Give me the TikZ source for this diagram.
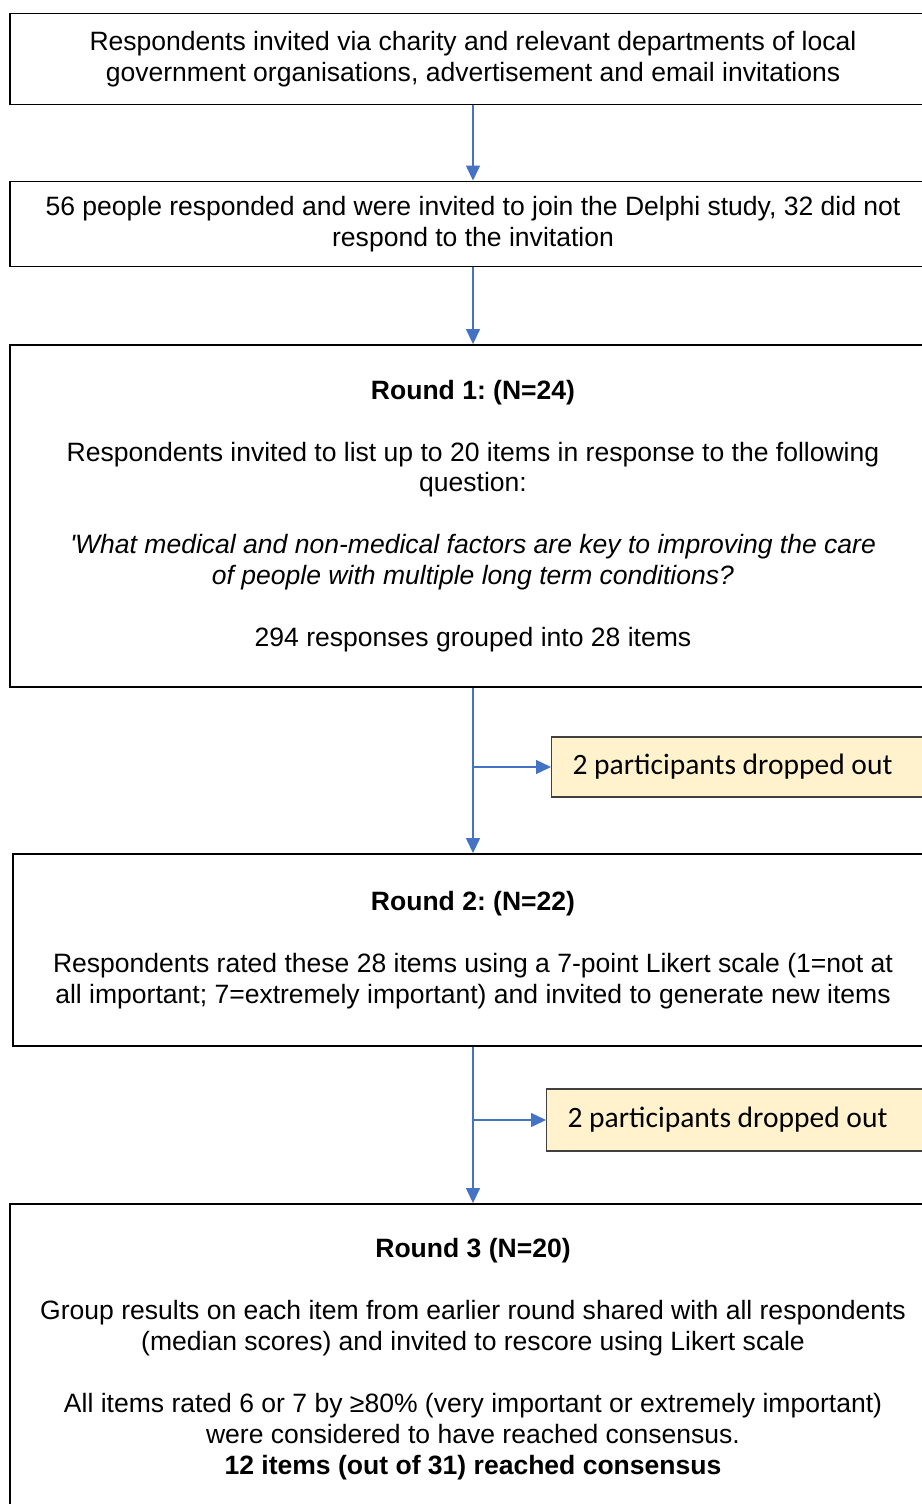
\documentclass[tikz,border=0pt]{standalone}
\usepackage{fontspec}
\setmainfont{Liberation Sans}
\newfontfamily\calibrifont{Carlito}
\usetikzlibrary{arrows.meta,positioning}
\definecolor{linkblue}{HTML}{4472C4}
\definecolor{dropfill}{HTML}{FFF2CC}
\frenchspacing
\tikzset{
  stage/.style={rectangle,draw=black,line width=1.1pt,align=center,
                font=\fontsize{15.1}{17.6}\selectfont,inner sep=0pt},
  dropbox/.style={rectangle,draw=black!75,line width=0.6pt,fill=dropfill,
                  anchor=west,align=flush left,text width=7.2cm,inner xsep=0.42cm,
                  font=\calibrifont\fontsize{16.8}{20}\selectfont},
  flow/.style={-{Triangle[width=0.28cm,length=0.3cm]},linkblue,line width=0.8pt}
}

\begin{document}
\begin{tikzpicture}[x=0.02cm,y=-0.02cm]
  \useasboundingbox (0,0) rectangle (922,1504);

  % stages
  \node[stage,minimum width=18.52cm,minimum height=1.82cm]
       (invite)at(473,59) {Respondents invited via charity and relevant departments of local\\
                            government organisations, advertisement and email invitations};
  \node[stage,minimum width=18.52cm,minimum height=1.70cm]
       (joined)at(473,224) {56 people responded and were invited to join the Delphi study, 32 did not\\
                            respond to the invitation};
  \node[stage,minimum width=18.52cm,minimum height=6.84cm]
       (round1)at(473,516) {\textbf{Round 1: (N=24)}\\[17.6pt]
                            Respondents invited to list up to 20 items in response to the following\\
                            question:\\[17.6pt]
                            \textit{\textquotesingle What medical and non-medical factors are key to improving the care}\\
                            \textit{of people with multiple long term conditions?}\\[17.6pt]
                            294 responses grouped into 28 items};
  \node[stage,minimum width=18.4cm,minimum height=3.84cm]
       (round2)at(473,950) {\textbf{Round 2: (N=22)}\\[17.6pt]
                            Respondents rated these 28 items using a 7-point Likert scale (1=not at\\
                            all important; 7=extremely important) and invited to generate new items};
  \node[stage,minimum width=18.52cm,minimum height=6.2cm]
       (round3)at(473,1359) {\textbf{Round 3 (N=20)}\\[17.6pt]
                             Group results on each item from earlier round shared with all respondents\\
                             (median scores) and invited to rescore using Likert scale\\[17.6pt]
                             All items rated 6 or 7 by ≥80\% (very important or extremely important)\\
                             were considered to have reached consensus.\\
                             \textbf{12 items (out of 31) reached consensus}};

  % drop outs
  \node[dropbox,minimum height=1.2cm] (drop1)at(551,767) {2 participants dropped out};
  \node[dropbox,minimum height=1.24cm] (drop2)at(546,1120) {2 participants dropped out};

  % connectors
  \draw[flow](invite.south)--(joined.north);
  \draw[flow](joined.south)--(round1.north);
  \draw[flow](round1.south)--(round2.north);
  \draw[flow](round2.south)--(round3.north);
  \draw[flow](round1.south |- drop1.west)--(drop1.west);
  \draw[flow](round2.south |- drop2.west)--(drop2.west);
\end{tikzpicture}
\end{document}
